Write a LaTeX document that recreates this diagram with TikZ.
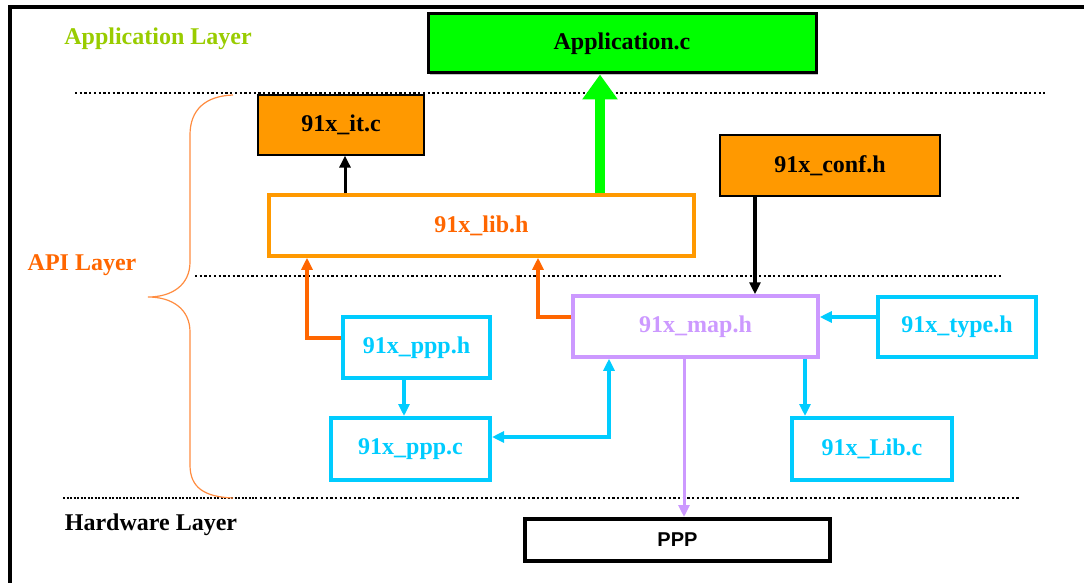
\documentclass[tikz,border=0pt]{standalone}
\usepackage{fontspec}
\setmainfont{Liberation Serif}
\newfontfamily\hwfont{Liberation Sans}
\usetikzlibrary{arrows.meta,shadows}
\definecolor{applime}{HTML}{99CC00}
\definecolor{appgreen}{HTML}{00FF00}
\definecolor{apiorange}{HTML}{FF9900}
\definecolor{apired}{HTML}{FF6600}
\definecolor{bracecol}{HTML}{FF8C40}
\definecolor{maplilac}{HTML}{CC99FF}
\definecolor{pppcyan}{HTML}{00CCFF}
\begin{document}
\begin{tikzpicture}[x=1pt,y=-1pt,
    >={Stealth[inset=0pt,length=12pt,width=11pt]},
    lbl/.style={font=\fontsize{24}{28}\selectfont\bfseries},
    filebox/.style={lbl,draw,minimum width=#1,inner sep=0pt},
    layerline/.style={line width=2.5pt,dash pattern=on 2.3pt off 2.4pt}]
  \useasboundingbox (0,0) rectangle (1084,583);
  \draw[line width=3.5pt] (10,583)--(10,7)--(1084,7);
  % layer separators
  \draw[layerline] (75,93)--(1045,93);
  \draw[layerline] (195,276)--(1002,276);
  \draw[line width=1.5pt,dash pattern=on 2pt off 1.5pt] (63,498)--(255,498);
  \draw[layerline] (255,498)--(1020,498);
  % layer names
  \node[lbl,applime] (applayer) at (158,39) {Application Layer};
  \node[lbl,apired] (apilayer) at (82,265) {API Layer};
  \node[lbl] (hwlayer) at (151,525) {Hardware Layer};
  \draw[bracecol,line width=1.2pt] (233,95) .. controls (205,96) and (190,110) .. (190,135)
    -- (190,262) .. controls (190,285) and (172,297) .. (148,297)
    .. controls (172,297) and (190,309) .. (190,332)
    -- (190,465) .. controls (190,488) and (205,497) .. (233,498);
  % files
  \node[filebox=388pt,minimum height=59pt,fill=appgreen,line width=3pt,
    drop shadow={shadow xshift=2pt,shadow yshift=-2pt,fill=black!45}] (app) at (622,43.5) {Application.c};
  \node[filebox=166pt,minimum height=60pt,fill=apiorange,line width=1.3pt] (itc) at (341,125) {91x\_it.c};
  \node[filebox=220pt,minimum height=61pt,fill=apiorange,line width=1.3pt] (conf) at (830,165.5) {91x\_conf.h};
  \node[filebox=425pt,minimum height=61pt,draw=apiorange,text=apired,line width=3.5pt] (lib) at (481.5,225.5) {91x\_lib.h};
  \node[filebox=245pt,minimum height=61pt,draw=maplilac,text=maplilac,line width=3.5pt] (map) at (695.5,326.5) {91x\_map.h};
  \node[filebox=158pt,minimum height=60pt,draw=pppcyan,text=pppcyan,line width=4pt] (type) at (957,327) {91x\_type.h};
  \node[filebox=147pt,minimum height=61pt,draw=pppcyan,text=pppcyan,line width=4pt] (ppph) at (416.5,347.5) {91x\_ppp.h};
  \node[filebox=159pt,minimum height=62pt,draw=pppcyan,text=pppcyan,line width=4pt] (pppc) at (410.5,449) {91x\_ppp.c};
  \node[filebox=160pt,minimum height=62pt,draw=pppcyan,text=pppcyan,line width=4pt] (libc) at (872,449) {91x\_Lib.c};
  \node[filebox=305pt,minimum height=42pt,line width=4pt,font=\hwfont\fontsize{20}{24}\selectfont\bfseries,fill=white,
    drop shadow={shadow xshift=2pt,shadow yshift=-2pt,fill=black!45}] (ppp) at (677.5,540) {PPP};
  % links
  \draw[appgreen,line width=10pt,-{Stealth[inset=0pt,length=25pt,width=34pt]}]
    ([xshift=-22pt]app.south |- lib.north)--([xshift=-22pt]app.south);
  \draw[->,line width=3pt] ([xshift=4pt]itc.south |- lib.north)--([xshift=4pt]itc.south);
  \draw[->,line width=3.5pt] ([xshift=-75pt]conf.south)--([xshift=-75pt]conf.south |- map.north);
  \draw[->,apired,line width=4pt] ([yshift=10pt]ppph.west) -| ([xshift=-174.5pt]lib.south);
  \draw[->,apired,line width=4pt] ([yshift=9.5pt]map.west) -| ([xshift=56.5pt]lib.south);
  \draw[->,pppcyan,line width=4pt] ([yshift=10pt]type.west)--([yshift=10pt]type.west -| map.east);
  \draw[->,pppcyan,line width=3.5pt] ([xshift=-12.5pt]ppph.south)--([xshift=-12.5pt]ppph.south |- pppc.north);
  \draw[<->,pppcyan,line width=4pt] ([yshift=12pt]pppc.east) -| ([xshift=-86.5pt]map.south);
  \draw[->,pppcyan,line width=3.5pt] ([xshift=109.5pt]map.south)--([xshift=109.5pt]map.south |- libc.north);
  \draw[->,maplilac,line width=3pt] ([xshift=-11.5pt]map.south)--([xshift=-11.5pt]map.south |- ppp.north);
\end{tikzpicture}
\end{document}
